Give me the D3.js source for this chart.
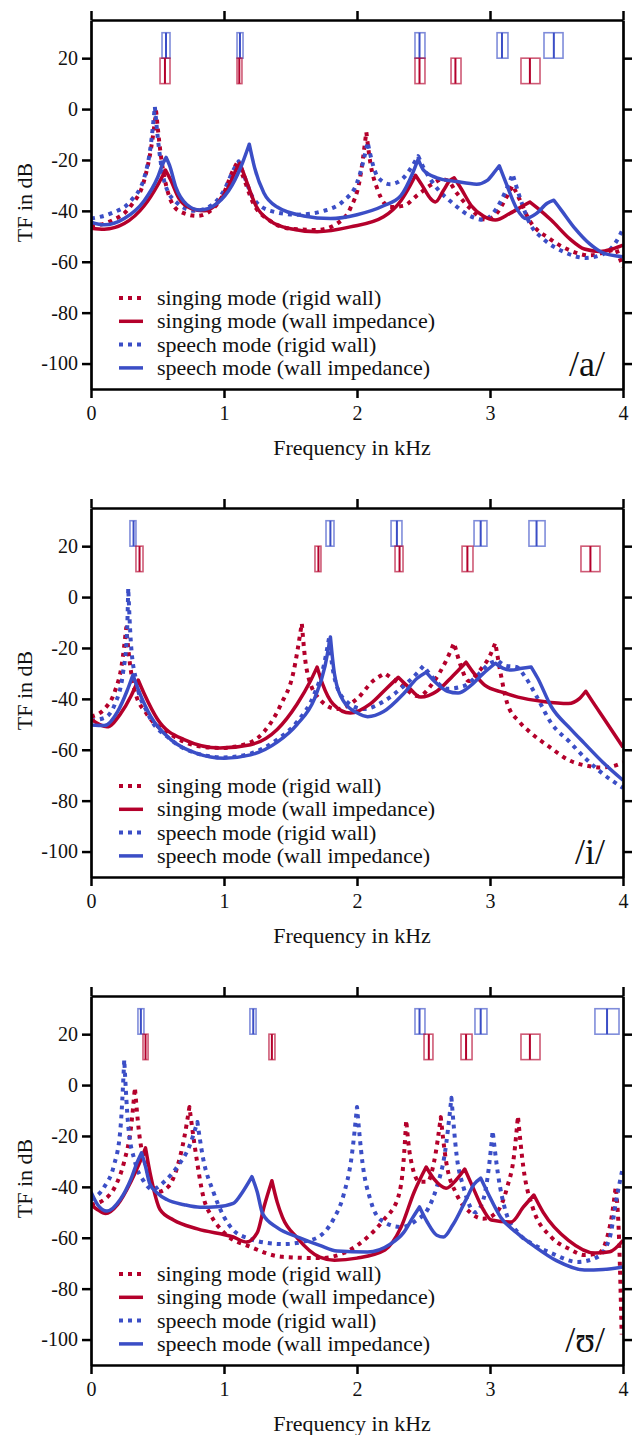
<!DOCTYPE html>
<html>
<head>
<meta charset="utf-8">
<script src="https://cdn.jsdelivr.net/npm/d3@7"></script>
<style>
body { margin:0; background:#fff; }
</style>
</head>
<body>
<script>
// ---- DATA ----
// frequency in kHz, transfer function in dB
var xTicks = [0, 1, 2, 3, 4];
var yTicks = [20, 0, -20, -40, -60, -80, -100];
var vowels = ["/a/", "/i/", "/\u028A/"];
var seriesNames = ["singing mode (rigid wall)", "singing mode (wall impedance)", "speech mode (rigid wall)", "speech mode (wall impedance)"];

// /a/
var aSingRigid = [[0,-46],[0.15,-44],[0.3,-38],[0.4,-28],[0.45,-16],[0.49,-1],[0.52,-16],[0.58,-33],[0.66,-40],[0.8,-42],[0.92,-39],[1.0,-33],[1.06,-25],[1.1,-21],[1.14,-26],[1.22,-37],[1.35,-44],[1.5,-47],[1.7,-47.5],[1.85,-45],[1.95,-39],[2.02,-28],[2.07,-9],[2.1,-21],[2.15,-31],[2.25,-38.5],[2.35,-38],[2.45,-34],[2.55,-30],[2.63,-27.5],[2.68,-28],[2.75,-33],[2.85,-39],[2.97,-43.5],[3.05,-41],[3.12,-35],[3.17,-30],[3.2,-33],[3.3,-44],[3.45,-51],[3.6,-55.5],[3.75,-57.5],[3.88,-56],[3.95,-55],[4.0,-62]];
var aSingWall = [[0,-46.8],[0.1,-47.2],[0.25,-45],[0.4,-38],[0.5,-30],[0.56,-24],[0.6,-28],[0.66,-35],[0.75,-39],[0.85,-40],[0.95,-37],[1.03,-31],[1.09,-24],[1.12,-21.3],[1.16,-27],[1.24,-38],[1.35,-44],[1.5,-47],[1.7,-48.2],[1.95,-46.3],[2.2,-42.3],[2.33,-36],[2.4,-30],[2.44,-26],[2.49,-30],[2.55,-35],[2.59,-36.5],[2.65,-32],[2.7,-28],[2.73,-27],[2.78,-31],[2.86,-38],[2.95,-42],[3.04,-43.6],[3.15,-41],[3.25,-38],[3.3,-36.5],[3.36,-39],[3.46,-43.6],[3.6,-51],[3.71,-55],[3.83,-56],[3.92,-55],[4.0,-53.5]];
var aSpeechRigid = [[0,-43],[0.15,-41],[0.3,-36],[0.4,-27],[0.45,-14],[0.48,1],[0.51,-15],[0.56,-30],[0.65,-37],[0.78,-40],[0.9,-38],[1.0,-32],[1.07,-24],[1.11,-20.5],[1.15,-26],[1.22,-35],[1.35,-40],[1.55,-41.5],[1.75,-40],[1.9,-36],[2.0,-29],[2.05,-20],[2.08,-13],[2.11,-20],[2.16,-27],[2.25,-29.5],[2.35,-27],[2.42,-22],[2.46,-18.5],[2.5,-23],[2.6,-31],[2.72,-37],[2.85,-42],[2.95,-43.5],[3.05,-39],[3.12,-32],[3.17,-25.5],[3.22,-34],[3.3,-45],[3.4,-51],[3.55,-56],[3.72,-58.5],[3.85,-57],[3.95,-52],[4.0,-47]];
var aSpeechWall = [[0,-44.4],[0.1,-45.5],[0.25,-43],[0.4,-36],[0.5,-27],[0.54,-21.5],[0.565,-19],[0.59,-22],[0.64,-31],[0.72,-37.5],[0.82,-39.7],[0.95,-37],[1.06,-30],[1.14,-21],[1.19,-13.8],[1.23,-23],[1.3,-33],[1.4,-38.5],[1.6,-42],[1.8,-43],[2.0,-41.5],[2.2,-38],[2.33,-34],[2.42,-25],[2.46,-19.7],[2.5,-24],[2.6,-27],[2.75,-28.5],[2.9,-29.5],[2.98,-28],[3.03,-25],[3.07,-22.3],[3.12,-29],[3.2,-39],[3.27,-43],[3.35,-41],[3.43,-37],[3.48,-35.8],[3.54,-40],[3.64,-47],[3.75,-53],[3.85,-56.5],[4.0,-58]];
var aSingFormants = [[0.519,0.556,0.594],[1.098,1.115,1.135],[2.436,2.47,2.511],[2.707,2.74,2.782],[3.233,3.30,3.376]];
var aSpeechFormants = [[0.534,0.564,0.594],[1.098,1.12,1.143],[2.436,2.47,2.511],[3.053,3.09,3.135],[3.406,3.48,3.549]];

// /i/
var iSingRigid = [[0,-47],[0.1,-44],[0.18,-37],[0.23,-27],[0.265,-12],[0.29,-25],[0.33,-37],[0.42,-46],[0.6,-54],[0.8,-58.5],[0.97,-59.3],[1.15,-58],[1.3,-53],[1.43,-42],[1.52,-30],[1.585,-10.3],[1.62,-28],[1.7,-39],[1.85,-44],[2.0,-40],[2.12,-33],[2.21,-30],[2.32,-34],[2.46,-39],[2.58,-33],[2.67,-25],[2.73,-18],[2.78,-27],[2.84,-33],[2.92,-29],[3.0,-23],[3.04,-18],[3.08,-30],[3.13,-41.8],[3.22,-49],[3.31,-53.5],[3.45,-59],[3.59,-64],[3.75,-66.5],[3.83,-67],[3.92,-66.5],[4.0,-65]];
var iSingWall = [[0,-48],[0.12,-51],[0.22,-46],[0.3,-39],[0.355,-32.6],[0.4,-38],[0.5,-48],[0.7,-56],[0.97,-59.3],[1.2,-58],[1.4,-52],[1.55,-42],[1.65,-33],[1.7,-27.5],[1.74,-34],[1.82,-42],[1.95,-45.6],[2.1,-42],[2.22,-36],[2.31,-31.5],[2.38,-35],[2.48,-39.3],[2.6,-37],[2.72,-31],[2.82,-25.6],[2.88,-30],[2.96,-34.6],[3.1,-37.5],[3.21,-39.3],[3.4,-41],[3.59,-41.8],[3.67,-40],[3.72,-37],[3.77,-41],[3.86,-48],[4.0,-59]];
var iSpeechRigid = [[0,-48.5],[0.1,-47.5],[0.18,-42],[0.24,-30],[0.27,-15],[0.28,3.5],[0.3,-18],[0.34,-33],[0.42,-45],[0.6,-56],[0.8,-61.5],[1.0,-63],[1.2,-61.5],[1.4,-56],[1.55,-49],[1.68,-38],[1.75,-27],[1.79,-16],[1.82,-29],[1.9,-40],[2.05,-44],[2.2,-41],[2.35,-35],[2.45,-30],[2.5,-27],[2.56,-31],[2.68,-36],[2.8,-35],[2.92,-30],[3.0,-26],[3.06,-25],[3.12,-27],[3.2,-27.5],[3.26,-31],[3.35,-39],[3.46,-49.5],[3.6,-57],[3.71,-63],[3.85,-69.5],[4.0,-75]];
var iSpeechWall = [[0,-50.3],[0.1,-50.5],[0.2,-45],[0.27,-37],[0.315,-30.6],[0.36,-37],[0.45,-47],[0.6,-56],[0.8,-61.5],[1.0,-63.3],[1.2,-62],[1.4,-57],[1.55,-50],[1.68,-40],[1.76,-27],[1.8,-15.7],[1.83,-30],[1.9,-41],[2.0,-45.5],[2.08,-47],[2.2,-45],[2.35,-38],[2.45,-32],[2.52,-29.5],[2.58,-33],[2.68,-37],[2.76,-37.7],[2.85,-35],[2.95,-30],[3.04,-26],[3.1,-28],[3.16,-28.7],[3.24,-28],[3.31,-27.5],[3.36,-32],[3.46,-43],[3.6,-51.5],[3.71,-57.5],[3.85,-65],[4.0,-72]];
var iSingFormants = [[0.338,0.365,0.391],[1.684,1.71,1.729],[2.286,2.32,2.346],[2.79,2.83,2.872],[3.684,3.755,3.827]];
var iSpeechFormants = [[0.293,0.32,0.338],[1.767,1.80,1.827],[2.256,2.30,2.338],[2.88,2.93,2.977],[3.293,3.35,3.414]];

// /ʊ/
var uSingRigid = [[0,-47],[0.1,-45],[0.18,-40],[0.25,-30],[0.3,-17],[0.33,-1],[0.36,-18],[0.42,-33],[0.5,-42],[0.58,-40],[0.65,-32],[0.7,-21],[0.74,-8.6],[0.78,-24],[0.85,-45],[0.9,-51],[1.0,-58],[1.2,-63.6],[1.44,-67.5],[1.72,-68],[1.9,-66],[2.08,-59.7],[2.2,-53],[2.31,-44],[2.35,-30],[2.37,-13.8],[2.4,-28],[2.47,-38],[2.53,-38],[2.58,-30],[2.63,-12.6],[2.67,-30],[2.75,-43],[2.85,-50],[2.95,-52.5],[3.05,-50],[3.13,-40],[3.18,-28],[3.21,-12.2],[3.25,-32],[3.32,-48],[3.46,-59.7],[3.6,-64.5],[3.71,-66.8],[3.82,-66],[3.88,-60],[3.92,-50],[3.945,-40],[3.97,-60],[3.99,-98]];
var uSingWall = [[0,-47],[0.05,-49],[0.11,-50.5],[0.2,-47],[0.3,-38],[0.37,-30],[0.41,-24.7],[0.45,-36],[0.52,-49],[0.62,-53],[0.8,-56.5],[1.07,-59.7],[1.17,-61.7],[1.25,-58],[1.3,-48],[1.36,-37.6],[1.4,-46],[1.44,-52],[1.55,-60],[1.72,-67.6],[1.83,-68.8],[2.0,-68],[2.21,-64.8],[2.33,-56],[2.43,-42],[2.52,-32.2],[2.58,-37],[2.67,-40.5],[2.75,-37],[2.81,-33],[2.87,-40],[2.95,-49],[3.01,-53],[3.16,-53.8],[3.25,-48],[3.33,-43.2],[3.4,-50],[3.59,-61],[3.79,-66],[3.9,-65.5],[4.0,-61]];
var uSpeechRigid = [[0,-45],[0.1,-40],[0.17,-32],[0.22,-18],[0.25,10],[0.28,-16],[0.33,-30],[0.4,-38],[0.46,-41],[0.55,-38],[0.65,-32],[0.74,-24],[0.8,-14.5],[0.84,-28],[0.92,-42],[1.07,-57],[1.2,-60.5],[1.32,-62],[1.45,-62.5],[1.6,-61.5],[1.71,-59.7],[1.82,-53],[1.9,-43],[1.96,-28],[2.0,-8.6],[2.04,-30],[2.1,-45],[2.18,-53],[2.33,-55.8],[2.45,-53],[2.53,-49],[2.6,-40],[2.66,-27],[2.71,-5],[2.75,-28],[2.8,-40],[2.89,-50],[2.95,-45],[2.99,-33],[3.02,-18],[3.06,-35],[3.12,-50],[3.21,-58],[3.34,-63],[3.46,-66],[3.66,-69.5],[3.81,-67.5],[3.9,-60],[3.95,-45],[4.0,-32]];
var uSpeechWall = [[0,-42],[0.05,-47],[0.12,-49.5],[0.22,-45],[0.3,-37],[0.35,-30],[0.38,-26.6],[0.41,-32],[0.44,-38.5],[0.5,-42.5],[0.57,-45],[0.7,-47],[0.82,-48],[0.95,-47.8],[1.07,-46.5],[1.14,-42],[1.21,-36],[1.25,-42],[1.29,-50.5],[1.4,-56],[1.57,-60],[1.72,-63],[1.85,-65.2],[2.08,-65.6],[2.25,-62.5],[2.35,-58],[2.42,-52],[2.47,-47.9],[2.53,-54],[2.6,-59],[2.65,-59.7],[2.72,-55],[2.82,-45],[2.88,-39],[2.93,-36.6],[2.98,-42],[3.08,-51.9],[3.2,-58],[3.34,-63.6],[3.5,-69],[3.71,-72.7],[3.85,-72.5],[4.0,-71.5]];
var uSingFormants = [[0.391,0.41,0.429],[1.338,1.36,1.383],[2.504,2.54,2.571],[2.782,2.82,2.865],[3.233,3.30,3.376]];
var uSpeechFormants = [[0.353,0.375,0.398],[1.195,1.22,1.241],[2.436,2.47,2.511],[2.887,2.93,2.977],[3.789,3.88,3.97]];

// ---- SETUP ----
var w = 638, h = 1435;
var left = 91, top0 = 20;
var pw = 532, ph = 369, step = 488;
var red = "#b4002b", blue = "#3b4ec6";
var font = "'Liberation Serif', 'DejaVu Serif', serif";

var svg = d3.select("body").append("svg")
  .attr("width", w)
  .attr("height", h)
  .style("background-color", "white");

var x = d3.scaleLinear().domain([0, 4]).range([0, pw]);
var y = d3.scaleLinear().domain([-110, 35]).range([ph, 0]);

var line = d3.line()
  .x(function(d){ return x(d[0]); })
  .y(function(d){ return y(d[1]); })
  .curve(d3.curveMonotoneX);

// resonance peaks are cusps: split the curve at every local maximum so the
// monotone spline does not round them off, then join into one path
function cuspPath(data){
  var cuts = [0];
  for (var i = 1; i < data.length - 1; i++) {
    if (data[i][1] > data[i-1][1] && data[i][1] > data[i+1][1]) cuts.push(i);
  }
  cuts.push(data.length - 1);
  var d = "";
  for (var k = 0; k < cuts.length - 1; k++) {
    var piece = line(data.slice(cuts[k], cuts[k+1] + 1));
    d += k === 0 ? piece : piece.replace(/^M[^A-Za-z]*/, "");
  }
  return d;
}

var panels = [
  {label: vowels[0], sr: aSingRigid, sw: aSingWall, pr: aSpeechRigid, pwl: aSpeechWall, sf: aSingFormants, pf: aSpeechFormants},
  {label: vowels[1], sr: iSingRigid, sw: iSingWall, pr: iSpeechRigid, pwl: iSpeechWall, sf: iSingFormants, pf: iSpeechFormants},
  {label: vowels[2], sr: uSingRigid, sw: uSingWall, pr: uSpeechRigid, pwl: uSpeechWall, sf: uSingFormants, pf: uSpeechFormants}
];

var styles = [
  {color: red, dash: "4,5"},
  {color: red, dash: null},
  {color: blue, dash: "4,5"},
  {color: blue, dash: null}
];

panels.forEach(function(p, k){
  var g = svg.append("g").attr("transform", "translate(" + left + "," + (top0 + k*step) + ")");

  var clip = "clip" + k;
  g.append("clipPath").attr("id", clip)
    .append("rect").attr("x", 0).attr("y", 0).attr("width", pw).attr("height", ph);

  // formant bands at the top: speech row 30..20 dB, singing row 20..10 dB
  function bands(data, color, hi, lo){
    var b = g.append("g");
    b.selectAll("rect").data(data).join("rect")
      .attr("x", function(d){ return x(d[0]); })
      .attr("y", y(hi))
      .attr("width", function(d){ return x(d[2]) - x(d[0]); })
      .attr("height", y(lo) - y(hi))
      .attr("fill", "none")
      .attr("stroke", color)
      .attr("stroke-opacity", 0.65)
      .attr("stroke-width", 1.6);
    b.selectAll("line").data(data).join("line")
      .attr("x1", function(d){ return x(d[1]); })
      .attr("x2", function(d){ return x(d[1]); })
      .attr("y1", y(hi))
      .attr("y2", y(lo))
      .attr("stroke", color)
      .attr("stroke-width", 2);
  }
  bands(p.pf, blue, 30, 20);
  bands(p.sf, red, 20, 10);

  // curves
  var curves = [p.sr, p.pr, p.sw, p.pwl];
  var cs = [styles[0], styles[2], styles[1], styles[3]];
  var cg = g.append("g").attr("clip-path", "url(#" + clip + ")");
  curves.forEach(function(c, j){
    cg.append("path")
      .attr("d", cuspPath(c))
      .attr("fill", "none")
      .attr("stroke", cs[j].color)
      .attr("stroke-width", cs[j].dash ? 4 : 3.5)
      .attr("stroke-dasharray", cs[j].dash)
      .attr("stroke-linejoin", "round");
  });

  // axes
  var fmt = function(d){ return String(d); };
  var ax = [
    g.append("g").attr("transform", "translate(0," + ph + ")")
      .call(d3.axisBottom(x).tickValues(xTicks).tickSize(9).tickSizeOuter(0).tickPadding(8).tickFormat(fmt)),
    g.append("g")
      .call(d3.axisTop(x).tickValues(xTicks).tickSize(9).tickSizeOuter(0).tickFormat("")),
    g.append("g")
      .call(d3.axisLeft(y).tickValues(yTicks).tickSize(9).tickSizeOuter(0).tickPadding(4).tickFormat(fmt)),
    g.append("g").attr("transform", "translate(" + pw + ",0)")
      .call(d3.axisRight(y).tickValues(yTicks).tickSize(9).tickSizeOuter(0).tickFormat(""))
  ];
  ax.forEach(function(a){
    a.attr("font-family", font).attr("font-size", 20);
    a.select(".domain").attr("stroke", "#000").attr("stroke-width", 2.7);
    a.selectAll(".tick line").attr("stroke", "#000").attr("stroke-width", 2.5);
    a.selectAll(".tick text").attr("fill", "#111");
  });

  // axis titles
  g.append("text")
    .attr("x", 261)
    .attr("y", ph + 66)
    .attr("text-anchor", "middle")
    .attr("font-family", font)
    .attr("font-size", 22)
    .attr("fill", "#111")
    .text("Frequency in kHz");
  g.append("text")
    .attr("transform", "translate(-59," + (ph/2 - 2) + ") rotate(-90)")
    .attr("text-anchor", "middle")
    .attr("font-family", font)
    .attr("font-size", 22)
    .attr("fill", "#111")
    .text("TF in dB");

  // vowel label
  g.append("text")
    .attr("x", 514)
    .attr("y", 356)
    .attr("text-anchor", "end")
    .attr("font-family", font)
    .attr("font-size", 36)
    .attr("fill", "#111")
    .text(p.label);

  // legend
  var lg = g.append("g").attr("transform", "translate(28,278)");
  seriesNames.forEach(function(name, j){
    var row = lg.append("g").attr("transform", "translate(0," + (j*23.3) + ")");
    row.append("line")
      .attr("x1", 0).attr("x2", 24)
      .attr("y1", 0).attr("y2", 0)
      .attr("stroke", styles[j].color)
      .attr("stroke-width", styles[j].dash ? 4 : 3.5)
      .attr("stroke-dasharray", styles[j].dash);
    row.append("text")
      .attr("x", 38)
      .attr("y", 7)
      .attr("font-family", font)
      .attr("font-size", 22)
      .attr("fill", "#111")
      .text(name);
  });
});
</script>
</body>
</html>
